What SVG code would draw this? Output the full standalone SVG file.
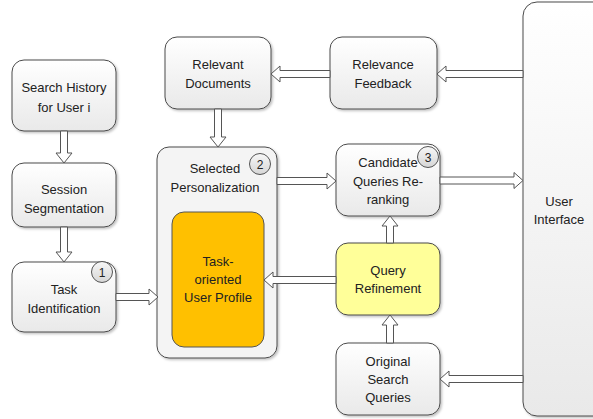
<svg xmlns="http://www.w3.org/2000/svg" width="593" height="419" viewBox="0 0 593 419">
<defs>
<linearGradient id="g" x1="0" y1="0" x2="0" y2="1"><stop offset="0" stop-color="#ffffff"/><stop offset="1" stop-color="#e9e9e9"/></linearGradient>
<linearGradient id="gb" x1="0" y1="0" x2="0" y2="1"><stop offset="0" stop-color="#f7f7f7"/><stop offset="1" stop-color="#d6d6d6"/></linearGradient>
<filter id="sh" x="-10%" y="-10%" width="130%" height="130%"><feDropShadow dx="1.5" dy="1.5" stdDeviation="1.2" flood-color="#000" flood-opacity="0.25"/></filter>
</defs>
<style>
.box{fill:url(#g);stroke:#4a4a4a;stroke-width:1;filter:url(#sh)}
.cont{fill:#f4f4f4;stroke:#4a4a4a;stroke-width:1;filter:url(#sh)}
.t{font-family:"Liberation Sans",Arial,sans-serif;font-size:13px;fill:#222;text-anchor:middle}
.arr{fill:#fff;stroke:#555;stroke-width:1}
.badge{fill:url(#gb);stroke:#555;stroke-width:1}
.bt{font-family:"Liberation Sans",Arial,sans-serif;font-size:12px;fill:#222;text-anchor:middle}
</style>
<g id="user-interface"><rect class="box" x="523" y="2" width="90" height="414" rx="14"/><text class="t" x="559" y="206">User</text><text class="t" x="559" y="224">Interface</text></g>
<g id="search-history"><rect class="box" x="12" y="60" width="104" height="71" rx="12"/><text class="t" x="64" y="92">Search History</text><text class="t" x="64" y="112">for User i</text></g>
<g id="session-segmentation"><rect class="box" x="12" y="163" width="104" height="64" rx="12"/><text class="t" x="64" y="194">Session</text><text class="t" x="64" y="213">Segmentation</text></g>
<g id="task-identification"><rect class="box" x="12" y="262" width="104" height="70" rx="12"/><text class="t" x="64" y="294">Task</text><text class="t" x="64" y="313">Identification</text><circle class="badge" cx="102" cy="272" r="10.5"/><text class="bt" x="102" y="276.5">1</text></g>
<g id="selected-personalization"><rect class="cont" x="157" y="147" width="120" height="211" rx="12"/><text class="t" x="215" y="173">Selected</text><text class="t" x="215" y="192">Personalization</text><circle class="badge" cx="260" cy="164" r="10.5"/><text class="bt" x="260" y="168.5">2</text></g>
<g id="task-oriented-user-profile"><rect x="172" y="212" width="92" height="135" rx="12" fill="#FFC000" stroke="#555" stroke-width="1"/><text class="t" x="218" y="266">Task-</text><text class="t" x="218" y="284">oriented</text><text class="t" x="218" y="302">User Profile</text></g>
<g id="relevant-documents"><rect class="box" x="165" y="37" width="106" height="72" rx="12"/><text class="t" x="218" y="69">Relevant</text><text class="t" x="218" y="88">Documents</text></g>
<g id="relevance-feedback"><rect class="box" x="330" y="37" width="107" height="72" rx="12"/><text class="t" x="383" y="69">Relevance</text><text class="t" x="383" y="88">Feedback</text></g>
<g id="candidate-queries"><rect class="box" x="336" y="144" width="104" height="72" rx="12"/><text class="t" x="388" y="167">Candidate</text><text class="t" x="388" y="186">Queries Re-</text><text class="t" x="388" y="204">ranking</text><circle class="badge" cx="428" cy="157" r="10.5"/><text class="bt" x="428" y="161.5">3</text></g>
<g id="query-refinement"><rect x="336" y="243" width="104" height="72" rx="12" fill="#FFFF99" stroke="#4a4a4a" stroke-width="1" filter="url(#sh)"/><text class="t" x="388" y="275">Query</text><text class="t" x="388" y="293">Refinement</text></g>
<g id="original-search-queries"><rect class="box" x="336" y="343" width="104" height="72" rx="12"/><text class="t" x="388" y="366">Original</text><text class="t" x="388" y="384">Search</text><text class="t" x="388" y="402">Queries</text></g>
<g id="connectors">
<polygon class="arr" points="60.5,131 67.5,131 67.5,153 72,153 64,163 56,153 60.5,153"/>
<polygon class="arr" points="60.5,227 67.5,227 67.5,252 72,252 64,262 56,252 60.5,252"/>
<polygon class="arr" points="214.5,109 221.5,109 221.5,137 226,137 218,147 210,137 214.5,137"/>
<polygon class="arr" points="116,293.5 149,293.5 149,289 158,297 149,305 149,300.5 116,300.5"/>
<polygon class="arr" points="523,70.5 446,70.5 446,66 437,74 446,82 446,77.5 523,77.5"/>
<polygon class="arr" points="330,70.5 280,70.5 280,66 271,74 280,82 280,77.5 330,77.5"/>
<polygon class="arr" points="277,177.5 327,177.5 327,173 336,181 327,189 327,184.5 277,184.5"/>
<polygon class="arr" points="440,177 514,177 514,172.5 523,180.5 514,188.5 514,184 440,184"/>
<polygon class="arr" points="336,276.5 273,276.5 273,272 264,280 273,288 273,283.5 336,283.5"/>
<polygon class="arr" points="386.5,243 393.5,243 393.5,226 398,226 390,216 382,226 386.5,226"/>
<polygon class="arr" points="386.5,343 393.5,343 393.5,325 398,325 390,315 382,325 386.5,325"/>
<polygon class="arr" points="523,375.5 449,375.5 449,371 440,379 449,387 449,382.5 523,382.5"/>
</g>
</svg>
